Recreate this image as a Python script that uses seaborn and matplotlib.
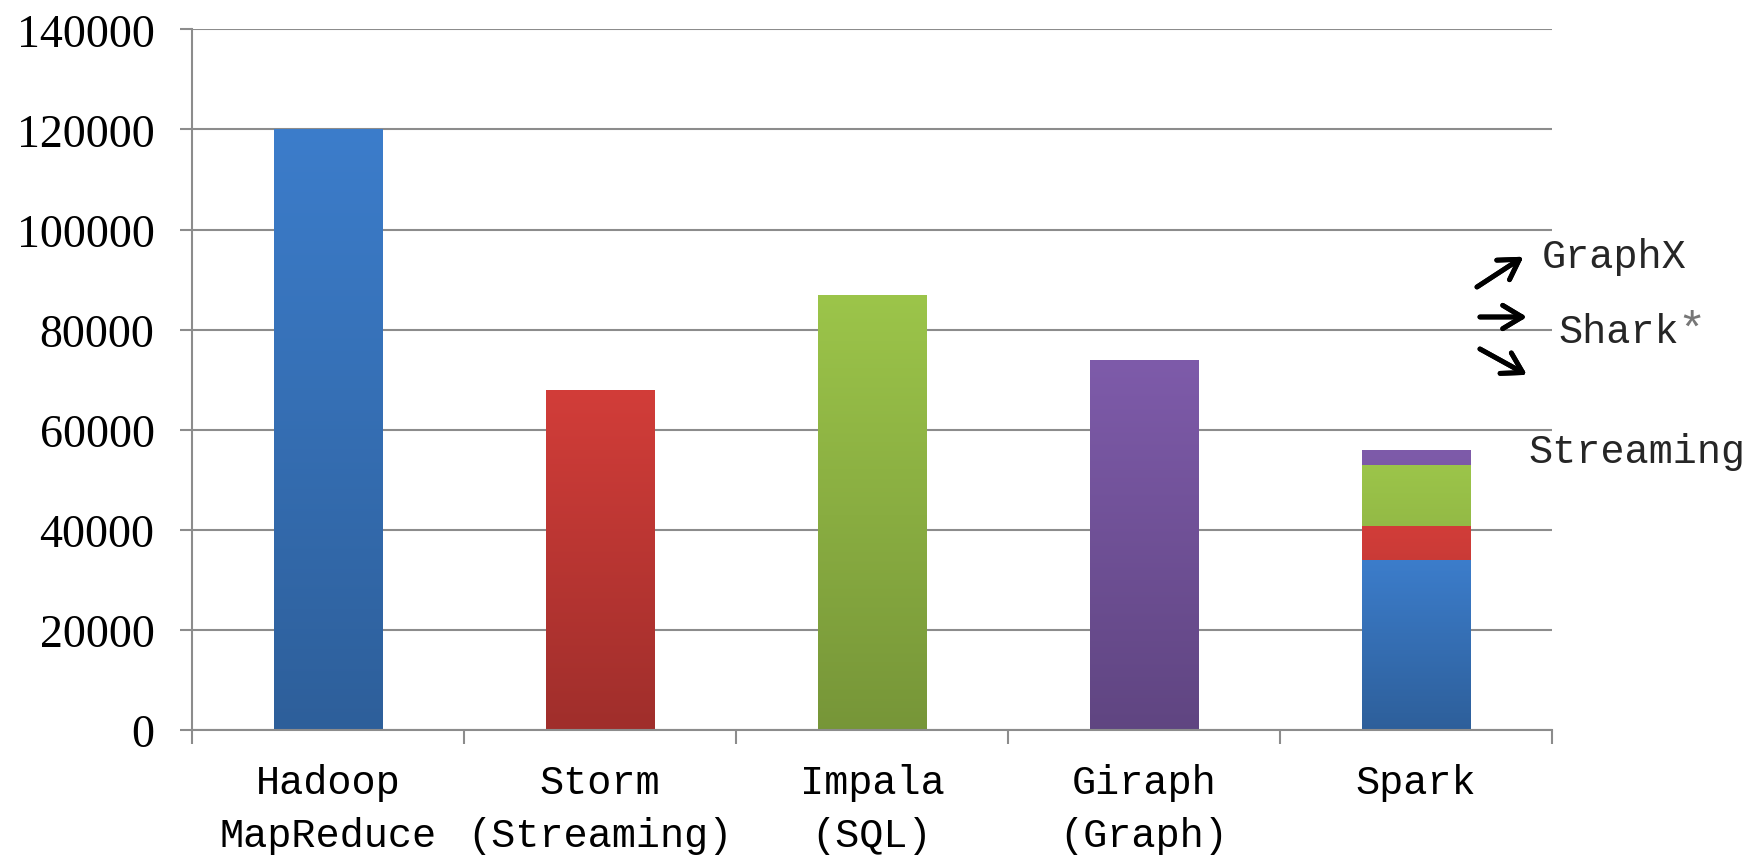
import numpy as np
import pandas as pd
import seaborn as sns
import matplotlib.pyplot as plt
from matplotlib.ticker import MultipleLocator, FixedLocator

# data
systems = ['Hadoop\nMapReduce', 'Storm\n(Streaming)', 'Impala\n(SQL)', 'Giraph\n(Graph)', 'Spark']
totals = [120000, 68000, 87000, 74000]
spark_parts = ['Hadoop', 'Streaming', 'Shark', 'GraphX']
spark_values = [34000, 6800, 12200, 3000]

colors = ['#3C7DCB', '#D23D39', '#9CC54A', '#7E5BAA']

sns.set_theme(style='white')
plt.rcParams['font.family'] = ['Liberation Mono', 'DejaVu Sans']

fig = plt.figure(figsize=(17.51, 8.62), dpi=100)
ax = fig.add_axes([0.1097, 0.152, 0.7766, 0.8128])

main = pd.DataFrame({'system': systems[:4], 'value': totals})
sns.barplot(data=main, x='system', y='value', hue='system', order=systems,
            hue_order=systems[:4], palette=colors, width=0.4, saturation=1,
            legend=False, ax=ax, linewidth=0)

# Spark stacked: draw cumulative heights from the top layer down
cum = np.cumsum(spark_values)
for val, col in zip(cum[::-1], colors[::-1]):
    sns.barplot(x=['Spark'], y=[val], order=systems, color=col, width=0.4,
                saturation=1, ax=ax, linewidth=0)

# vertical gradient on each bar (lighter on top, darker at bottom)
z = 2.0
for p in list(ax.patches):
    x0, y0 = p.get_x(), p.get_y()
    w, h = p.get_width(), p.get_height()
    if h <= 0:
        continue
    top = np.array(p.get_facecolor()[:3])
    bot = top * 0.76
    t = np.linspace(0, 1, 256)[:, None]
    grad = (top[None, :] * (1 - t) + bot[None, :] * t)[:, None, :]
    im = ax.imshow(grad, extent=[x0, x0 + w, y0, y0 + h], aspect='auto',
                   origin='upper', zorder=z, interpolation='bilinear')
    im.set_clip_path(p)
    p.set_zorder(z - 0.0005)
    z += 0.01

ax.set_xlim(-0.5, 4.5)
ax.set_ylim(0, 140000)
ax.yaxis.set_major_locator(MultipleLocator(20000))
ax.grid(axis='y', color='#8C8C8C', lw=1.5, zorder=0)
ax.set_axisbelow(True)

for s in ['top', 'right']:
    ax.spines[s].set_visible(False)
for s in ['left', 'bottom']:
    ax.spines[s].set_color('#8C8C8C')
    ax.spines[s].set_linewidth(1.5)

ax.set_xlabel('')
ax.set_ylabel('')
ax.tick_params(axis='y', which='major', length=9, width=1.5, color='#8C8C8C',
               pad=18, left=True)
for lab in ax.get_yticklabels():
    lab.set_fontfamily('Liberation Serif')
    lab.set_fontsize(33)
    lab.set_color('black')

ax.xaxis.set_minor_locator(FixedLocator(np.arange(-0.5, 5, 1)))
ax.tick_params(axis='x', which='minor', length=10, width=1.5, color='#8C8C8C',
               bottom=True)
ax.tick_params(axis='x', which='major', length=0, pad=24)
for lab in ax.get_xticklabels():
    lab.set_fontsize(29)
    lab.set_linespacing(1.5)
    lab.set_color('black')

# annotation for the Spark components
fs = 29
fig.text(0.8806, 0.7019, 'GraphX', fontsize=fs, va='center')
fig.text(0.8903, 0.6148, 'Shark', fontsize=fs, va='center')
fig.text(0.9578, 0.6148, '*', fontsize=34, va='center', color='#777777')
fig.text(0.8726, 0.4756, 'Streaming', fontsize=fs, va='center')
arrows = [((0.8435, 0.6659), (0.8700, 0.7010)),
          ((0.8452, 0.6311), (0.8720, 0.6311)),
          ((0.8452, 0.5940), (0.8720, 0.5640))]
for start, end in arrows:
    fig.add_artist(plt.annotate('', xy=end, xytext=start,
                                xycoords='figure fraction',
                                arrowprops=dict(arrowstyle='->,head_length=0.5,head_width=0.3',
                                                lw=3.5, color='black',
                                                mutation_scale=28,
                                                shrinkA=0, shrinkB=0)))

fig.savefig('out.png', dpi=100)
